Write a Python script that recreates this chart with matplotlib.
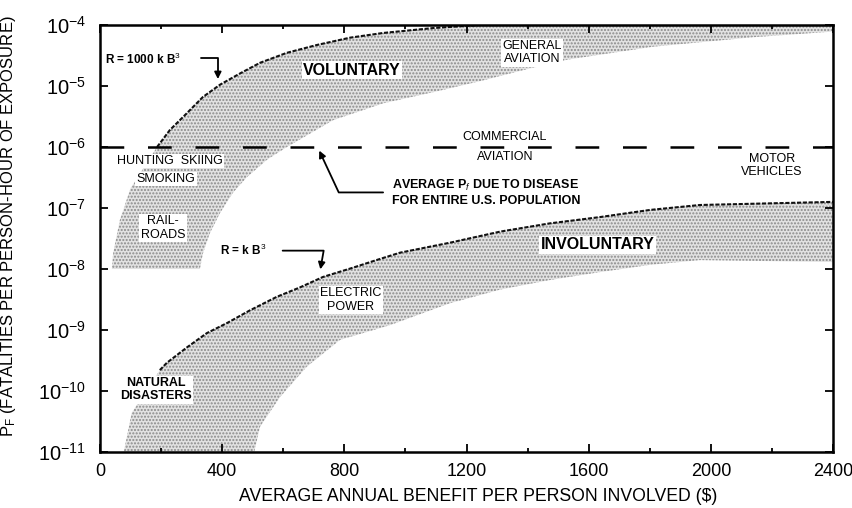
import matplotlib
matplotlib.use('Agg')
import matplotlib.pyplot as plt
import numpy as np

plt.rcParams['font.family'] = ['Liberation Sans', 'DejaVu Sans']
plt.rcParams['mathtext.fontset'] = 'custom'
plt.rcParams['mathtext.rm'] = 'Liberation Sans'
plt.rcParams['mathtext.it'] = 'Liberation Sans:italic'
plt.rcParams['mathtext.bf'] = 'Liberation Sans:bold'

# Voluntary band: upper edge (R = 1000 k B^3 from B=187 on) and lower edge
vol_top_B = [39, 43, 65, 100, 187, 229, 285, 337, 393, 458, 524, 612, 710, 819, 927, 1090, 1244, 2400]
vol_top_P = [1.0e-8, 1.8e-8, 6.3e-8, 2.1e-7, 1.0e-6, 1.9e-6, 3.6e-6, 6.6e-6, 1.05e-5, 1.6e-5,
             2.4e-5, 3.5e-5, 4.7e-5, 6.2e-5, 7.4e-5, 8.9e-5, 1.0e-4, 1.0e-4]
vol_low_B = [39, 327, 337, 360, 393, 436, 481, 547, 612, 763, 927, 1090, 1244, 1400, 1529, 1810, 2138, 2400]
vol_low_P = [1.0e-8, 1.0e-8, 1.8e-8, 3.9e-8, 8.3e-8, 1.8e-7, 3.2e-7, 6.2e-7, 1.0e-6, 2.75e-6,
             5.2e-6, 7.9e-6, 1.2e-5, 1.9e-5, 2.7e-5, 4.4e-5, 6.3e-5, 7.8e-5]

# Involuntary band: upper edge (R = k B^3 from B=196 on) and lower edge
inv_top_B = [78, 104, 196, 219, 285, 350, 416, 491, 579, 655, 730, 828, 905, 982, 1146, 1310, 1473,
             1637, 1801, 1964, 2400]
inv_top_P = [1.0e-11, 4.4e-11, 2.2e-10, 2.9e-10, 5.2e-10, 8.9e-10, 1.3e-9, 2.1e-9, 3.5e-9, 5.0e-9,
             7.4e-9, 1.05e-8, 1.4e-8, 1.85e-8, 2.7e-8, 4.1e-8, 5.6e-8, 7.1e-8, 9.3e-8, 1.12e-7, 1.26e-7]
inv_low_B = [505, 524, 589, 677, 786, 949, 1146, 1310, 1473, 1637, 1801, 1964, 2400]
inv_low_P = [1.0e-11, 2.6e-11, 7.9e-11, 2.5e-10, 6.9e-10, 1.2e-9, 2.75e-9, 4.6e-9, 6.6e-9, 8.9e-9,
             1.17e-8, 1.4e-8, 1.3e-8]

disease_P = 1.0e-6

x_ticks = [0, 400, 800, 1200, 1600, 2000, 2400]
y_ticks = [1e-11, 1e-10, 1e-9, 1e-8, 1e-7, 1e-6, 1e-5, 1e-4]

fig = plt.figure(figsize=(8.53, 5.08), dpi=100)
ax = fig.add_axes([0.1172, 0.1102, 0.8594, 0.8406])
ax.set_yscale('log')

shade = dict(facecolor='#e2e2e2', edgecolor='#8a8a8a', hatch='.....', linewidth=0)
ax.fill(np.concatenate([vol_top_B, vol_low_B[::-1]]),
        np.concatenate([vol_top_P, vol_low_P[::-1]]), **shade)
ax.fill(np.concatenate([inv_top_B, inv_low_B[::-1]]),
        np.concatenate([inv_top_P, inv_low_P[::-1]]), **shade)

ax.plot(vol_top_B[4:], vol_top_P[4:], color='#111111', lw=1.5, ls=(0, (2, 0.8)))
ax.plot(inv_top_B[2:], inv_top_P[2:], color='#111111', lw=1.5, ls=(0, (2, 0.8)))

ax.axhline(disease_P, color='black', lw=1.8, dashes=(9.5, 9.5))

ax.set_xlim(0, 2400)
ax.set_ylim(1e-11, 1e-4)
ax.set_xticks(x_ticks)
ax.set_xticks(np.arange(0, 2401, 200), minor=True)
ax.set_yticks(y_ticks)
ax.yaxis.set_minor_locator(matplotlib.ticker.NullLocator())
ax.tick_params(which='both', direction='in', top=True, right=True, width=1.3)
ax.tick_params(which='major', length=6)
ax.tick_params(which='minor', length=3)
ax.tick_params(axis='x', labelsize=13, pad=8)
ax.tick_params(axis='y', labelsize=14.5, pad=10)
for spine in ax.spines.values():
    spine.set_linewidth(1.8)

ax.set_xlabel('AVERAGE ANNUAL BENEFIT PER PERSON INVOLVED ($)', fontsize=12.7)
ax.xaxis.set_label_coords(0.516, -0.085)
ax.set_ylabel('P$_{\\mathrm{F}}$ (FATALITIES PER PERSON-HOUR OF EXPOSURE)', fontsize=12)
ax.yaxis.set_label_coords(-0.112, 0.53)

box = dict(facecolor='white', edgecolor='none', pad=1)
small = dict(fontsize=9, ha='center', va='center', linespacing=1.15)

ax.text(16, 2.7e-5, 'R = 1000 k B$^3$', fontsize=8.5, fontweight='bold', ha='left', va='center')
ax.annotate('', xy=(386, 1.17e-5), xytext=(321, 2.9e-5),
            arrowprops=dict(arrowstyle='-|>', color='black', lw=1.3,
                            connectionstyle='angle,angleA=0,angleB=90,rad=0'))
ax.text(825, 1.8e-5, 'VOLUNTARY', fontsize=11.5, fontweight='bold', ha='center', va='center', bbox=box)
ax.text(1414, 3.5e-5, 'GENERAL\nAVIATION', bbox=box, **small)
ax.text(229, 5.9e-7, 'HUNTING  SKIING', bbox=box, **small)
ax.text(216, 3.0e-7, 'SMOKING', bbox=box, **small)
ax.text(206, 4.7e-8, 'RAIL-\nROADS', bbox=box, **small)
ax.text(1326, 1.0e-6, 'COMMERCIAL\n\nAVIATION', fontsize=9, ha='center', va='center', linespacing=0.75)
ax.text(2200, 5.0e-7, 'MOTOR\nVEHICLES', **small)
ax.text(956, 1.8e-7, 'AVERAGE P$_f$ DUE TO DISEASE\nFOR ENTIRE U.S. POPULATION',
        fontsize=9, fontweight='bold', ha='left', va='center', linespacing=1.2)
ax.annotate('', xy=(714, 9.6e-7), xytext=(936, 1.8e-7),
            arrowprops=dict(arrowstyle='-|>', color='black', lw=1.3,
                            connectionstyle='angle,angleA=0,angleB=115,rad=0'))
ax.text(393, 2.0e-8, 'R = k B$^3$', fontsize=8.5, fontweight='bold', ha='left', va='center')
ax.annotate('', xy=(720, 8.9e-9), xytext=(589, 2.0e-8),
            arrowprops=dict(arrowstyle='-|>', color='black', lw=1.3,
                            connectionstyle='angle,angleA=0,angleB=80,rad=0'))
ax.text(1630, 2.5e-8, 'INVOLUNTARY', fontsize=11.5, fontweight='bold', ha='center', va='center', bbox=box)
ax.text(822, 3.1e-9, 'ELECTRIC\nPOWER', bbox=box, **small)
ax.text(183, 1.05e-10, 'NATURAL\nDISASTERS', fontweight='bold', bbox=box, **small)

fig.savefig('out.png', dpi=100)
